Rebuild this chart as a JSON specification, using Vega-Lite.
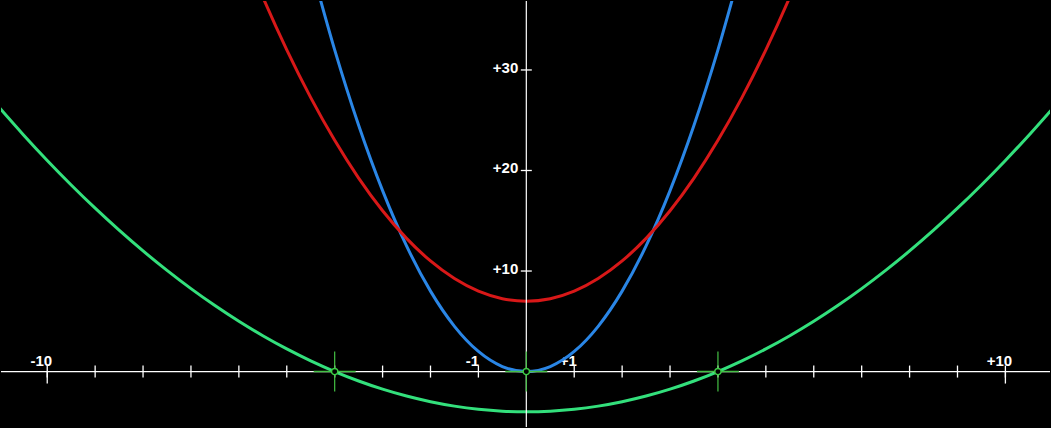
{
  "$schema": "https://vega.github.io/schema/vega-lite/v6.json",
  "width": 1051,
  "height": 428,
  "autosize": {"type": "fit", "contains": "padding"},
  "padding": 0,
  "background": "#000000",
  "config": {
    "view": {"stroke": null},
    "axis": {"disable": true},
    "legend": {"disable": true},
    "text": {"font": "Liberation Sans", "fontWeight": "bold", "fontSize": 15, "color": "#ffffff"}
  },
  "datasets": {
    "curves": [
      {"curve": "blue", "x": -4.5, "y": 40.5}, {"curve": "blue", "x": -4, "y": 32}, {"curve": "blue", "x": -3.5, "y": 24.5}, {"curve": "blue", "x": -3, "y": 18}, {"curve": "blue", "x": -2.5, "y": 12.5}, {"curve": "blue", "x": -2, "y": 8}, {"curve": "blue", "x": -1.5, "y": 4.5}, {"curve": "blue", "x": -1, "y": 2}, {"curve": "blue", "x": -0.5, "y": 0.5}, {"curve": "blue", "x": 0, "y": 0}, {"curve": "blue", "x": 0.5, "y": 0.5}, {"curve": "blue", "x": 1, "y": 2}, {"curve": "blue", "x": 1.5, "y": 4.5}, {"curve": "blue", "x": 2, "y": 8}, {"curve": "blue", "x": 2.5, "y": 12.5}, {"curve": "blue", "x": 3, "y": 18}, {"curve": "blue", "x": 3.5, "y": 24.5}, {"curve": "blue", "x": 4, "y": 32}, {"curve": "blue", "x": 4.5, "y": 40.5},
      {"curve": "red", "x": -6, "y": 43}, {"curve": "red", "x": -5.5, "y": 37.25}, {"curve": "red", "x": -5, "y": 32}, {"curve": "red", "x": -4.5, "y": 27.25}, {"curve": "red", "x": -4, "y": 23}, {"curve": "red", "x": -3.5, "y": 19.25}, {"curve": "red", "x": -3, "y": 16}, {"curve": "red", "x": -2.5, "y": 13.25}, {"curve": "red", "x": -2, "y": 11}, {"curve": "red", "x": -1.5, "y": 9.25}, {"curve": "red", "x": -1, "y": 8}, {"curve": "red", "x": -0.5, "y": 7.25}, {"curve": "red", "x": 0, "y": 7}, {"curve": "red", "x": 0.5, "y": 7.25}, {"curve": "red", "x": 1, "y": 8}, {"curve": "red", "x": 1.5, "y": 9.25}, {"curve": "red", "x": 2, "y": 11}, {"curve": "red", "x": 2.5, "y": 13.25}, {"curve": "red", "x": 3, "y": 16}, {"curve": "red", "x": 3.5, "y": 19.25}, {"curve": "red", "x": 4, "y": 23}, {"curve": "red", "x": 4.5, "y": 27.25}, {"curve": "red", "x": 5, "y": 32}, {"curve": "red", "x": 5.5, "y": 37.25}, {"curve": "red", "x": 6, "y": 43},
      {"curve": "green", "x": -11, "y": 26.25}, {"curve": "green", "x": -10.5, "y": 23.5625}, {"curve": "green", "x": -10, "y": 21}, {"curve": "green", "x": -9.5, "y": 18.5625}, {"curve": "green", "x": -9, "y": 16.25}, {"curve": "green", "x": -8.5, "y": 14.0625}, {"curve": "green", "x": -8, "y": 12}, {"curve": "green", "x": -7.5, "y": 10.0625}, {"curve": "green", "x": -7, "y": 8.25}, {"curve": "green", "x": -6.5, "y": 6.5625}, {"curve": "green", "x": -6, "y": 5}, {"curve": "green", "x": -5.5, "y": 3.5625}, {"curve": "green", "x": -5, "y": 2.25}, {"curve": "green", "x": -4.5, "y": 1.0625}, {"curve": "green", "x": -4, "y": 0}, {"curve": "green", "x": -3.5, "y": -0.9375}, {"curve": "green", "x": -3, "y": -1.75}, {"curve": "green", "x": -2.5, "y": -2.4375}, {"curve": "green", "x": -2, "y": -3}, {"curve": "green", "x": -1.5, "y": -3.4375}, {"curve": "green", "x": -1, "y": -3.75}, {"curve": "green", "x": -0.5, "y": -3.9375}, {"curve": "green", "x": 0, "y": -4}, {"curve": "green", "x": 0.5, "y": -3.9375}, {"curve": "green", "x": 1, "y": -3.75}, {"curve": "green", "x": 1.5, "y": -3.4375}, {"curve": "green", "x": 2, "y": -3}, {"curve": "green", "x": 2.5, "y": -2.4375}, {"curve": "green", "x": 3, "y": -1.75}, {"curve": "green", "x": 3.5, "y": -0.9375}, {"curve": "green", "x": 4, "y": 0}, {"curve": "green", "x": 4.5, "y": 1.0625}, {"curve": "green", "x": 5, "y": 2.25}, {"curve": "green", "x": 5.5, "y": 3.5625}, {"curve": "green", "x": 6, "y": 5}, {"curve": "green", "x": 6.5, "y": 6.5625}, {"curve": "green", "x": 7, "y": 8.25}, {"curve": "green", "x": 7.5, "y": 10.0625}, {"curve": "green", "x": 8, "y": 12}, {"curve": "green", "x": 8.5, "y": 14.0625}, {"curve": "green", "x": 9, "y": 16.25}, {"curve": "green", "x": 9.5, "y": 18.5625}, {"curve": "green", "x": 10, "y": 21}, {"curve": "green", "x": 10.5, "y": 23.5625}, {"curve": "green", "x": 11, "y": 26.25}
    ],
    "xticks": [
      {"v": -10}, {"v": -9}, {"v": -8}, {"v": -7}, {"v": -6}, {"v": -5}, {"v": -4}, {"v": -3}, {"v": -2}, {"v": -1},
      {"v": 1}, {"v": 2}, {"v": 3}, {"v": 4}, {"v": 5}, {"v": 6}, {"v": 7}, {"v": 8}, {"v": 9}, {"v": 10}
    ],
    "xmajor": [{"v": -10}, {"v": 10}],
    "xlabels": [{"v": -10, "t": "-10"}, {"v": -1, "t": "-1"}, {"v": 1, "t": "+1"}, {"v": 10, "t": "+10"}],
    "ylabels": [{"v": 10, "t": "+10"}, {"v": 20, "t": "+20"}, {"v": 30, "t": "+30"}],
    "origin": [{"v": 0}],
    "points": [{"x": -4, "y": 0}, {"x": 0, "y": 0}, {"x": 4, "y": 0}]
  },
  "layer": [
    {
      "data": {"name": "xlabels"},
      "mark": {"type": "text", "align": "center", "baseline": "alphabetic", "dx": -6, "dy": -6},
      "encoding": {
        "x": {"field": "v", "type": "quantitative", "scale": {"domain": [-10.965, 10.931], "nice": false, "zero": false}},
        "y": {"datum": 0, "type": "quantitative", "scale": {"domain": [-5.515, 36.86], "nice": false, "zero": false}},
        "text": {"field": "t"}
      }
    },
    {
      "data": {"name": "ylabels"},
      "mark": {"type": "text", "align": "right", "baseline": "alphabetic", "dx": -8, "dy": 3},
      "encoding": {
        "x": {"datum": 0, "type": "quantitative", "scale": {"domain": [-10.965, 10.931], "nice": false, "zero": false}},
        "y": {"field": "v", "type": "quantitative", "scale": {"domain": [-5.515, 36.86], "nice": false, "zero": false}},
        "text": {"field": "t"}
      }
    },
    {
      "data": {"name": "curves"},
      "mark": {"type": "line", "clip": true, "strokeWidth": 3, "interpolate": "monotone"},
      "encoding": {
        "x": {"field": "x", "type": "quantitative", "scale": {"domain": [-10.965, 10.931], "nice": false, "zero": false}},
        "y": {"field": "y", "type": "quantitative", "scale": {"domain": [-5.515, 36.86], "nice": false, "zero": false}},
        "color": {"field": "curve", "type": "nominal", "scale": {"domain": ["green", "red", "blue"], "range": ["#33e07c", "#d81818", "#2a86e6"]}, "legend": null}
      }
    },
    {
      "data": {"name": "origin"},
      "mark": {"type": "rule", "color": "#ffffff", "strokeWidth": 1.2},
      "encoding": {
        "y": {"field": "v", "type": "quantitative", "scale": {"domain": [-5.515, 36.86], "nice": false, "zero": false}}
      }
    },
    {
      "data": {"name": "origin"},
      "mark": {"type": "rule", "color": "#ffffff", "strokeWidth": 1.2},
      "encoding": {
        "x": {"field": "v", "type": "quantitative", "scale": {"domain": [-10.965, 10.931], "nice": false, "zero": false}}
      }
    },
    {
      "data": {"name": "xticks"},
      "mark": {"type": "tick", "orient": "vertical", "color": "#ffffff", "opacity": 1, "size": 12, "thickness": 1.3},
      "encoding": {
        "x": {"field": "v", "type": "quantitative", "scale": {"domain": [-10.965, 10.931], "nice": false, "zero": false}},
        "y": {"datum": 0, "type": "quantitative", "scale": {"domain": [-5.515, 36.86], "nice": false, "zero": false}}
      }
    },
    {
      "data": {"name": "xmajor"},
      "mark": {"type": "tick", "orient": "vertical", "color": "#ffffff", "opacity": 1, "size": 12, "thickness": 1.3, "yOffset": 6},
      "encoding": {
        "x": {"field": "v", "type": "quantitative", "scale": {"domain": [-10.965, 10.931], "nice": false, "zero": false}},
        "y": {"datum": 0, "type": "quantitative", "scale": {"domain": [-5.515, 36.86], "nice": false, "zero": false}}
      }
    },
    {
      "data": {"name": "ylabels"},
      "mark": {"type": "tick", "orient": "horizontal", "color": "#ffffff", "opacity": 1, "size": 11, "thickness": 1.3},
      "encoding": {
        "x": {"datum": 0, "type": "quantitative", "scale": {"domain": [-10.965, 10.931], "nice": false, "zero": false}},
        "y": {"field": "v", "type": "quantitative", "scale": {"domain": [-5.515, 36.86], "nice": false, "zero": false}}
      }
    },
    {
      "data": {"name": "points"},
      "mark": {"type": "tick", "orient": "vertical", "color": "#44c044", "opacity": 1, "size": 40, "thickness": 1.2},
      "encoding": {
        "x": {"field": "x", "type": "quantitative", "scale": {"domain": [-10.965, 10.931], "nice": false, "zero": false}},
        "y": {"field": "y", "type": "quantitative", "scale": {"domain": [-5.515, 36.86], "nice": false, "zero": false}}
      }
    },
    {
      "data": {"name": "points"},
      "mark": {"type": "tick", "orient": "horizontal", "color": "#44c044", "opacity": 1, "size": 42, "thickness": 1.6},
      "encoding": {
        "x": {"field": "x", "type": "quantitative", "scale": {"domain": [-10.965, 10.931], "nice": false, "zero": false}},
        "y": {"field": "y", "type": "quantitative", "scale": {"domain": [-5.515, 36.86], "nice": false, "zero": false}}
      }
    },
    {
      "data": {"name": "points"},
      "mark": {"type": "point", "shape": "circle", "filled": false, "fill": "#000000", "fillOpacity": 1, "stroke": "#3ccc44", "strokeWidth": 1.5, "size": 40, "opacity": 1},
      "encoding": {
        "x": {"field": "x", "type": "quantitative", "scale": {"domain": [-10.965, 10.931], "nice": false, "zero": false}},
        "y": {"field": "y", "type": "quantitative", "scale": {"domain": [-5.515, 36.86], "nice": false, "zero": false}}
      }
    }
  ]
}
